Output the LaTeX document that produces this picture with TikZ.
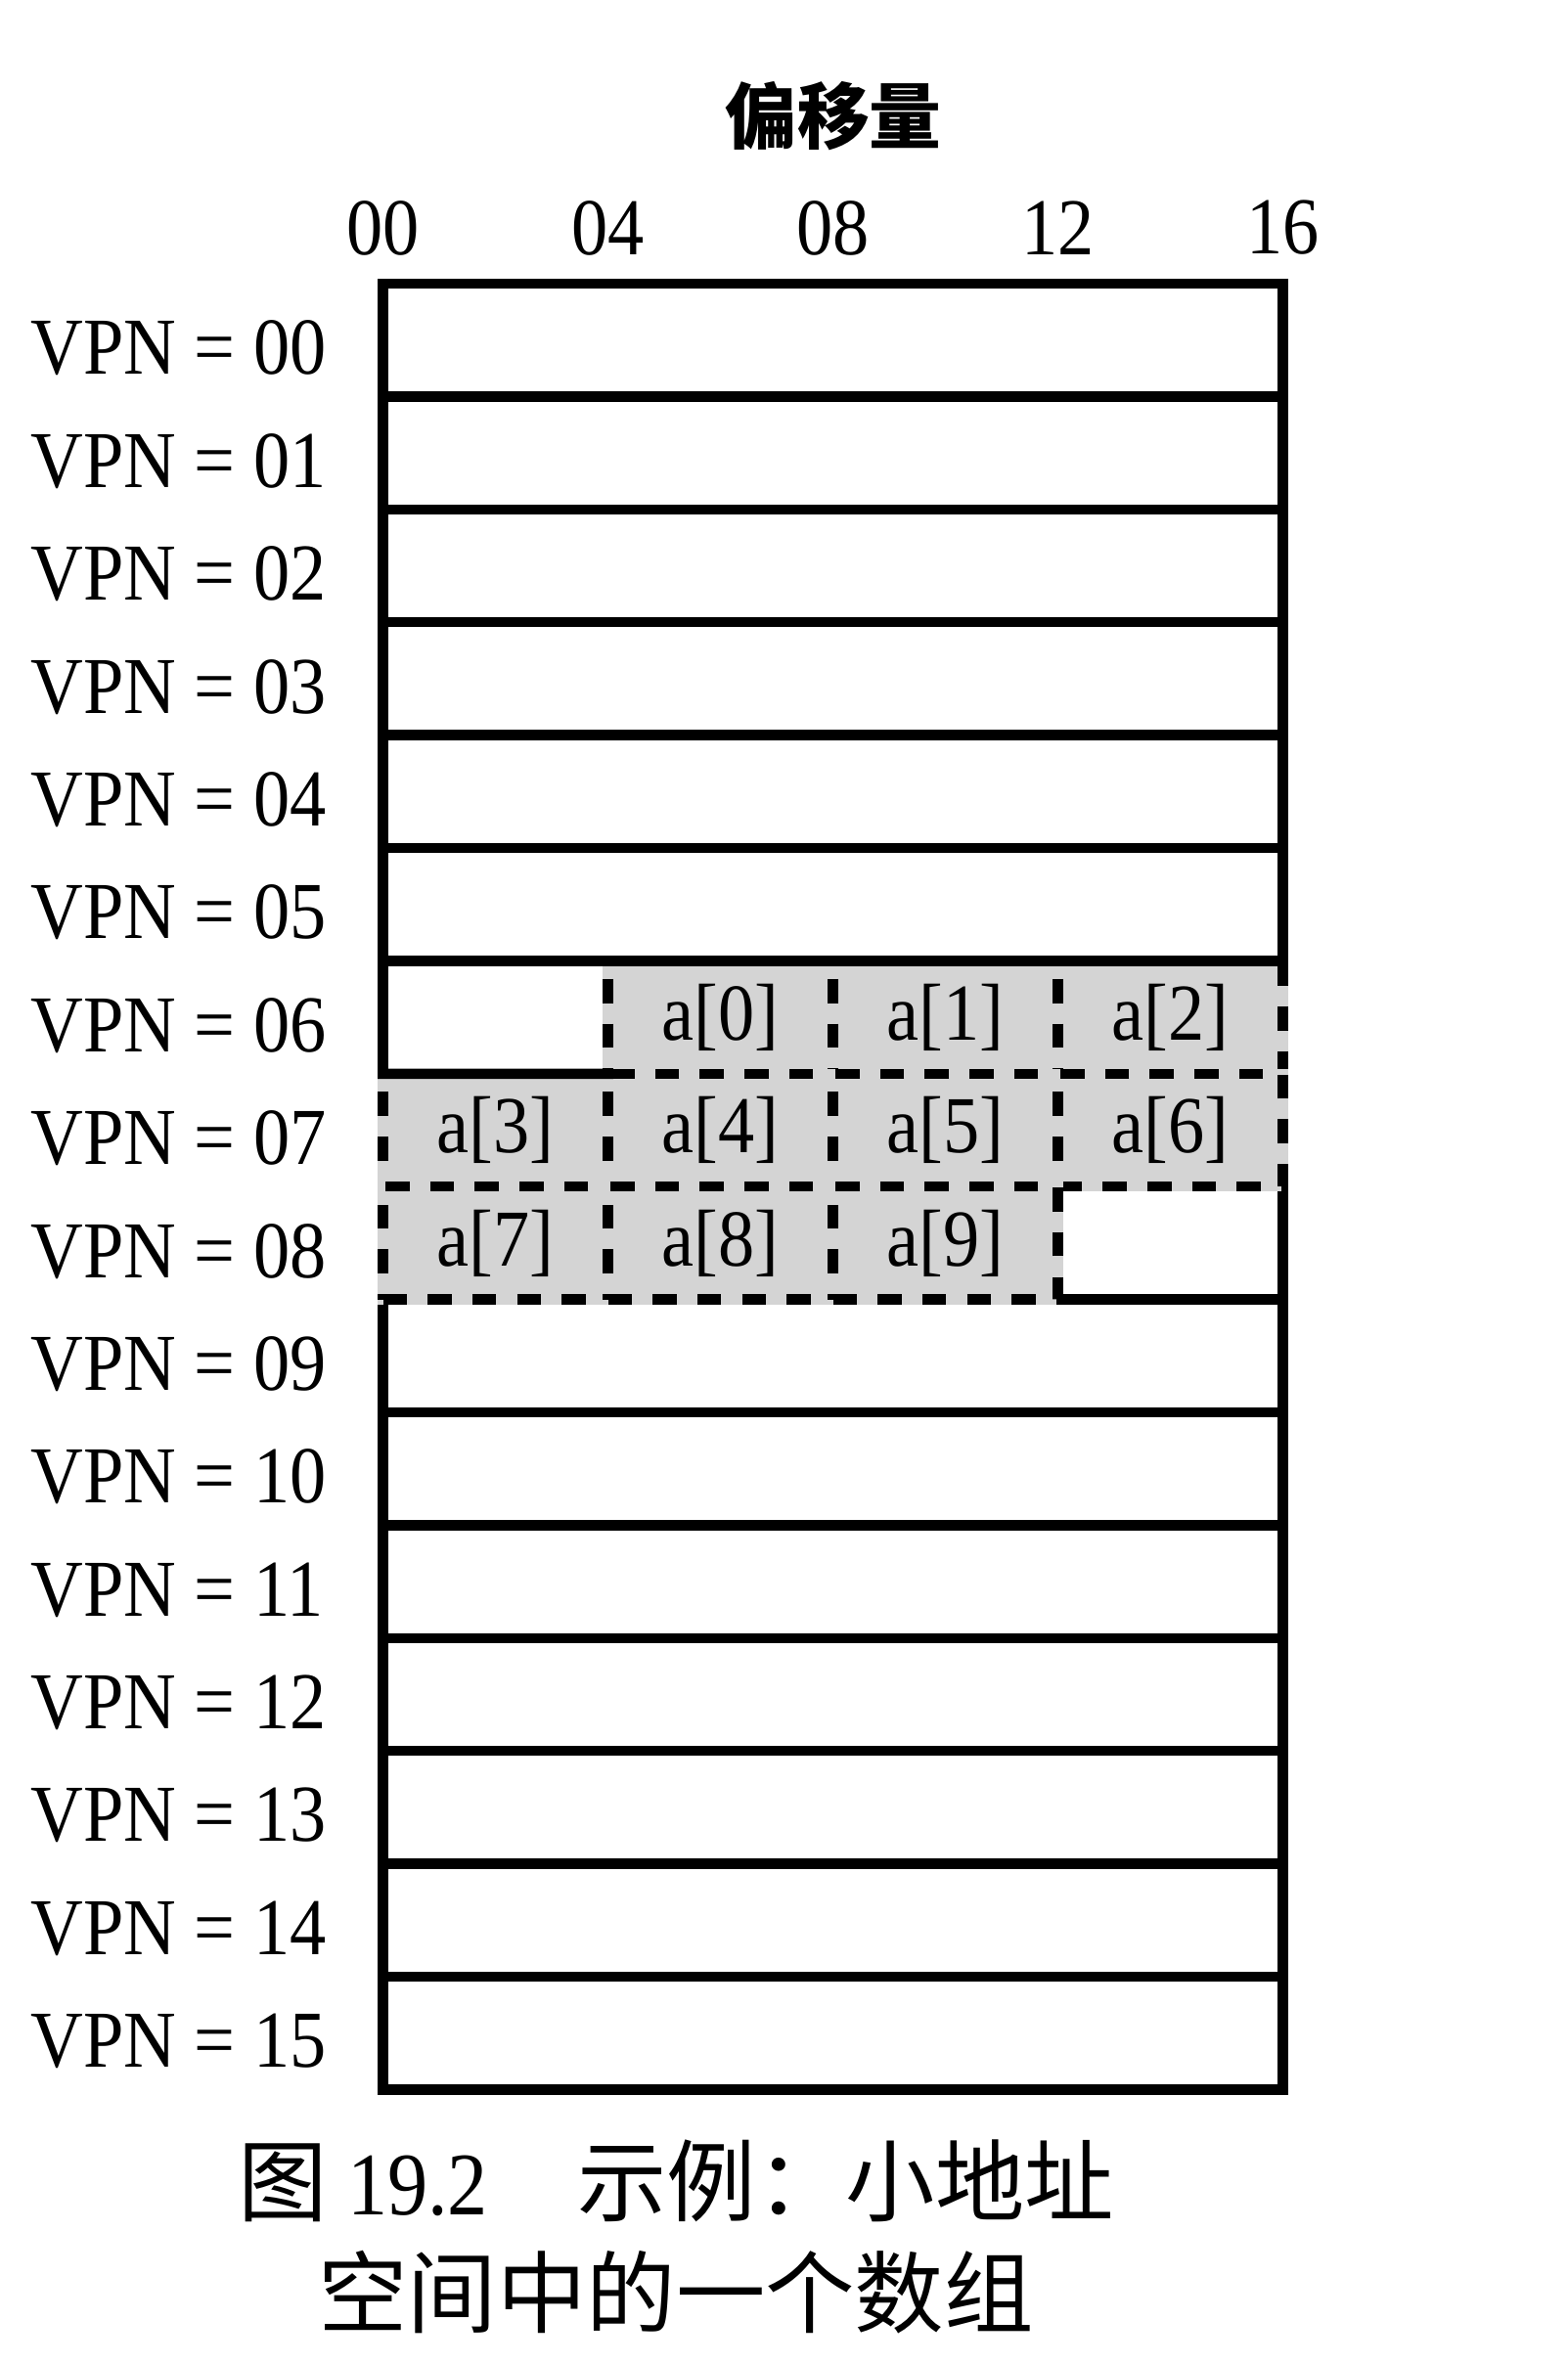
\documentclass[tikz,border=0pt]{standalone}
\usepackage{fontspec}
\setmainfont{Liberation Serif}[FakeStretch=0.9]
\newfontfamily\cjk{Noto Sans CJK SC}

\definecolor{cellgray}{RGB}{212,212,212}

\tikzset{
  rowbox/.style={draw, line width=3pt, minimum width=9.2cm, minimum height=1.154cm,
    inner sep=0pt, outer sep=0pt},
  cellbox/.style={draw, fill=cellgray, line width=3pt, dash pattern=on 7pt off 6pt,
    minimum width=2.3cm, minimum height=1.154cm, inner sep=0pt, outer sep=0pt,
    preaction={draw=cellgray, solid, line width=3pt}, font=\fontsize{23.5}{27}\selectfont},
  solidline/.style={line width=3pt, line cap=rect},
  bigtext/.style={font=\fontsize{23.5}{27}\selectfont, inner sep=0pt},
  headtext/.style={font=\fontsize{21}{25}\selectfont\cjk\bfseries, inner sep=0pt},
  captext/.style={font=\fontsize{26}{30}\selectfont, inner sep=0pt},
}

\begin{document}
\begin{tikzpicture}
  \useasboundingbox (0,0) rectangle (16.03,-24.17);

  % offsets along the top
  \node[headtext] (offset) at (8.52,-1.19) {偏移量};
  \foreach \k/\t in {0/00,1/04,2/08,3/12,4/16}
    \node[bigtext] (off\t) at (3.915+2.3*\k,-2.33) {\t};

  % one row per virtual page
  \foreach \i in {0,...,15} {
    \node[rowbox] (r\i) at (8.515,-3.477-1.154*\i) {};
    \node[bigtext, anchor=west] (vpn\i) at (0.31,-3.56-1.154*\i) {VPN = \ifnum\i<10 0\fi\i};
  }

  % the array a[0..9]
  \begin{scope}[every node/.style={cellbox}]
    \node (a0) at (7.365,-10.401) {a[0]};
    \node (a1) at (9.665,-10.401) {a[1]};
    \node (a2) at (11.965,-10.401) {a[2]};
    \node (a3) at (5.065,-11.555) {a[3]};
    \node (a4) at (7.365,-11.555) {a[4]};
    \node (a5) at (9.665,-11.555) {a[5]};
    \node (a6) at (11.965,-11.555) {a[6]};
    \node (a7) at (5.065,-12.709) {a[7]};
    \node (a8) at (7.365,-12.709) {a[8]};
    \node (a9) at (9.665,-12.709) {a[9]};
  \end{scope}

  % page borders that stay solid
  \draw[solidline] (r6.north west) -- (r6.north east);
  \draw[solidline] (r6.north west) -- (r6.south west) -- (a3.north east);

  % caption
  \node[captext] (cap1) at (6.91,-22.30) {{\cjk 图} 19.2\hspace{1em}{\cjk 示例：小地址}};
  \node[captext] (cap2) at (6.91,-23.44) {\cjk 空间中的一个数组};
\end{tikzpicture}
\end{document}
